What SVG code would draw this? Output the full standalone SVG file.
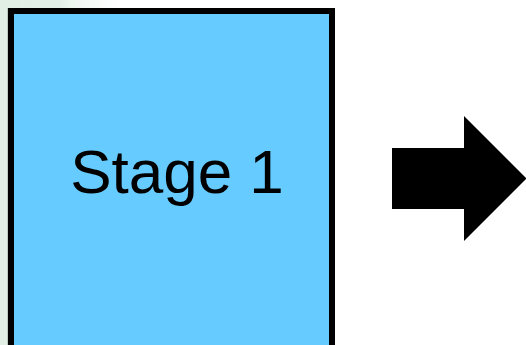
<svg xmlns="http://www.w3.org/2000/svg" width="526" height="345" viewBox="0 0 526 345">
  <defs>
    <linearGradient id="bgTop" x1="0" y1="0" x2="1" y2="0">
      <stop offset="0" stop-color="#e0efe3"/>
      <stop offset="0.5" stop-color="#e3f0e6"/>
      <stop offset="0.6" stop-color="#eef6f0"/>
      <stop offset="1" stop-color="#ffffff"/>
    </linearGradient>
    <style>
      .stage { fill: #66ccff; stroke: #000000; stroke-width: 6; }
      .label { font-family: "Liberation Sans", Arial, sans-serif; font-size: 62px; fill: #000000; }
      .flow { fill: #000000; }
    </style>
  </defs>

  <!-- page background -->
  <rect x="0" y="0" width="526" height="345" fill="#ffffff"/>
  <rect x="0" y="0" width="120" height="9" fill="url(#bgTop)"/>
  <rect x="0" y="0" width="9" height="345" fill="#e1efe4"/>
  <rect x="7.5" y="8" width="1" height="337" fill="#9aa59c"/>

  <g id="stage1">
    <rect class="stage" x="11" y="11" width="321" height="337"/>
    <text class="label" x="177" y="193" text-anchor="middle">Stage 1</text>
  </g>

  <g id="connectors">
    <polygon class="flow" points="392,148 464,148 464,116 526.5,178.5 464,241 464,209 392,209"/>
  </g>
</svg>
